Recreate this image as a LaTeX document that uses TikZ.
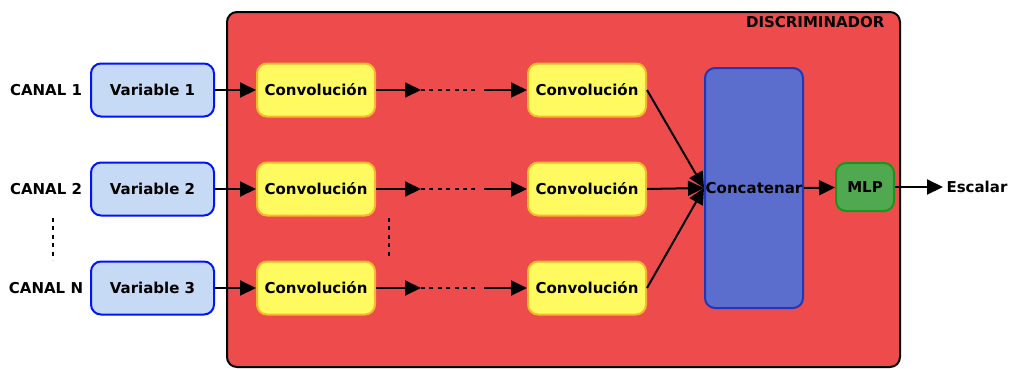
\documentclass[tikz,border=0pt]{standalone}
\usepackage{fontspec}
\setmainfont{DejaVu Sans}
\usepackage{tikz}
\usetikzlibrary{arrows.meta, calc}
\usepackage{xcolor}

\definecolor{rojo}{RGB}{238,76,76}
\definecolor{amarillo}{RGB}{255,250,95}
\definecolor{naranja}{RGB}{245,185,45}
\definecolor{celeste}{RGB}{198,217,245}
\definecolor{azul}{RGB}{0,20,250}
\definecolor{azulc}{RGB}{91,110,206}
\definecolor{azulb}{RGB}{35,55,180}
\definecolor{verde}{RGB}{80,168,80}
\definecolor{verdeb}{RGB}{25,150,25}

\tikzset{
  txt/.style={font=\fontsize{15}{17}\selectfont\bfseries},
  caja/.style={txt, rounded corners=10pt, line width=2pt, inner sep=0pt},
  var/.style={caja, draw=azul, fill=celeste, minimum width=123pt, minimum height=53pt},
  conv/.style={caja, draw=naranja, fill=amarillo, minimum width=118pt, minimum height=53pt},
  flecha/.style={line width=2pt, -{Triangle[length=16pt,width=15pt]}},
  puntos/.style={line width=2pt, dash pattern=on 4pt off 4.4pt}
}

\begin{document}
\begin{tikzpicture}[x=1pt,y=-1pt]
    \useasboundingbox (0,0) rectangle (1011,368);
    % Discriminador
    \draw[fill=rojo, line width=2pt, rounded corners=10pt] (227,12) rectangle (900,367);
    \node[txt, anchor=north east] (disc) at (888,13) {DISCRIMINADOR};
    % Concatenar y MLP
    \node[caja, draw=azulb, fill=azulc, minimum width=98pt, minimum height=240pt] (cat) at (754,188) {Concatenar};
    \node[caja, draw=verdeb, fill=verde, minimum width=58pt, minimum height=48pt] (mlp) at (865,187) {MLP};
    % Canales
    \foreach \i/\c/\v/\y in {1/1/1/90, 2/2/2/189, 3/N/3/288} {
        \node[txt] (canal\i) at (46,\y) {CANAL \c};
        \node[var] (var\i) at (152.5,\y) {Variable \v};
        \node[conv] (conva\i) at (316,\y) {Convolución};
        \node[conv] (convb\i) at (587,\y) {Convolución};
        \coordinate (p\i) at (421,\y);
        \coordinate (q\i) at (478,\y);
        \coordinate (r\i) at (484,\y);
        \draw[flecha] (var\i) -- (conva\i);
        \draw[flecha] (conva\i) -- (p\i);
        \draw[puntos] (p\i) -- (q\i);
        \draw[flecha] (r\i) -- (convb\i);
        \draw[flecha] (convb\i.east) -- (cat.west);
    }
    \draw[flecha] (cat.east) -- (mlp);
    % Salida
    \coordinate (out) at (943,187);
    \draw[flecha] (mlp) -- (out);
    \node[txt, anchor=west] (esc) at (out) {Escalar};
    % Puntos verticales
    \coordinate (d1) at (53,218);
    \coordinate (d2) at (53,260);
    \coordinate (d3) at (389,218);
    \coordinate (d4) at (389,258);
    \draw[puntos] (d1) -- (d2);
    \draw[puntos] (d3) -- (d4);
\end{tikzpicture}
\end{document}
